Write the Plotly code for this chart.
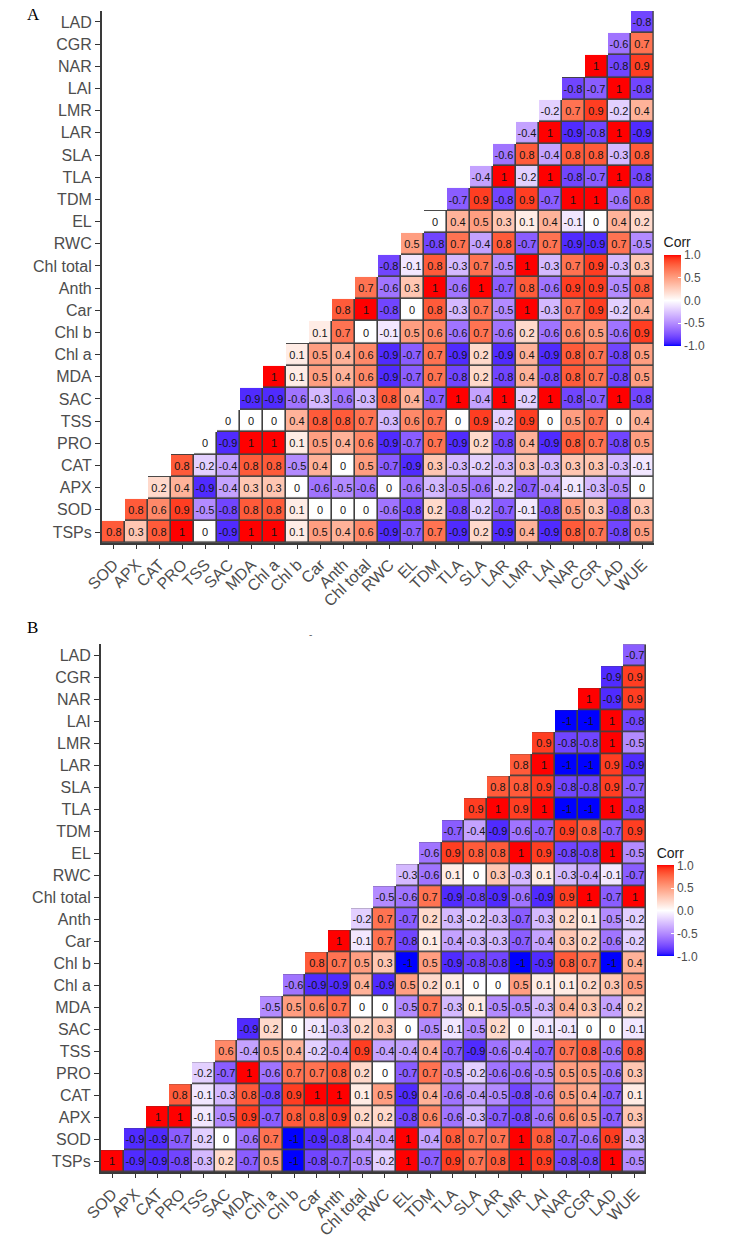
import plotly.graph_objects as go

# ---------------- data ----------------
cols = ["SOD", "APX", "CAT", "PRO", "TSS", "SAC", "MDA", "Chl a", "Chl b", "Car", "Anth",
        "Chl total", "RWC", "EL", "TDM", "TLA", "SLA", "LAR", "LMR", "LAI", "NAR", "CGR", "LAD", "WUE"]
rows = ["TSPs", "SOD", "APX", "CAT", "PRO", "TSS", "SAC", "MDA", "Chl a", "Chl b", "Car", "Anth",
        "Chl total", "RWC", "EL", "TDM", "TLA", "SLA", "LAR", "LMR", "LAI", "NAR", "CGR", "LAD"]
cbar_ticks = [-1.0, -0.5, 0.0, 0.5, 1.0]
cbar_text = ["-1.0", "-0.5", "0.0", "0.5", "1.0"]

# Panel A: each row lists values from the column equal to its own index up to WUE
a_TSPs = [0.8, 0.3, 0.8, 1, 0, -0.9, 1, 1, 0.1, 0.5, 0.4, 0.6, -0.9, -0.7, 0.7, -0.9, 0.2, -0.9, 0.4, -0.9, 0.8, 0.7, -0.8, 0.5]
a_SOD = [0.8, 0.6, 0.9, -0.5, -0.8, 0.8, 0.8, 0.1, 0, 0, 0, -0.6, -0.8, 0.2, -0.8, -0.2, -0.7, -0.1, -0.8, 0.5, 0.3, -0.8, 0.3]
a_APX = [0.2, 0.4, -0.9, -0.4, 0.3, 0.3, 0, -0.6, -0.5, -0.6, 0, -0.6, -0.3, -0.5, -0.6, -0.2, -0.7, -0.4, -0.1, -0.3, -0.5, 0]
a_CAT = [0.8, -0.2, -0.4, 0.8, 0.8, -0.5, 0.4, 0, 0.5, -0.7, -0.9, 0.3, -0.3, -0.2, -0.3, 0.3, -0.3, 0.3, 0.3, -0.3, -0.1]
a_PRO = [0, -0.9, 1, 1, 0.1, 0.5, 0.4, 0.6, -0.9, -0.7, 0.7, -0.9, 0.2, -0.8, 0.4, -0.9, 0.8, 0.7, -0.8, 0.5]
a_TSS = [0, 0, 0, 0.4, 0.8, 0.8, 0.7, -0.3, 0.6, 0.7, 0, 0.9, -0.2, 0.9, 0, 0.5, 0.7, 0, 0.4]
a_SAC = [-0.9, -0.9, -0.6, -0.3, -0.6, -0.3, 0.8, 0.4, -0.7, 1, -0.4, 1, -0.2, 1, -0.8, -0.7, 1, -0.8]
a_MDA = [1, 0.1, 0.5, 0.4, 0.6, -0.9, -0.7, 0.7, -0.8, 0.2, -0.8, 0.4, -0.8, 0.8, 0.7, -0.8, 0.5]
a_Chla = [0.1, 0.5, 0.4, 0.6, -0.9, -0.7, 0.7, -0.9, 0.2, -0.9, 0.4, -0.9, 0.8, 0.7, -0.8, 0.5]
a_Chlb = [0.1, 0.7, 0, -0.1, 0.5, 0.6, -0.6, 0.7, -0.6, 0.2, -0.6, 0.6, 0.5, -0.6, 0.9]
a_Car = [0.8, 1, -0.8, 0, 0.8, -0.3, 0.7, -0.5, 1, -0.3, 0.7, 0.9, -0.2, 0.4]
a_Anth = [0.7, -0.6, 0.3, 1, -0.6, 1, -0.7, 0.8, -0.6, 0.9, 0.9, -0.5, 0.8]
a_Chltotal = [-0.8, -0.1, 0.8, -0.3, 0.7, -0.5, 1, -0.3, 0.7, 0.9, -0.3, 0.3]
a_RWC = [0.5, -0.8, 0.7, -0.4, 0.8, -0.7, 0.7, -0.9, -0.9, 0.7, -0.5]
a_EL = [0, 0.4, 0.5, 0.3, 0.1, 0.4, -0.1, 0, 0.4, 0.2]
a_TDM = [-0.7, 0.9, -0.8, 0.9, -0.7, 1, 1, -0.6, 0.8]
a_TLA = [-0.4, 1, -0.2, 1, -0.8, -0.7, 1, -0.8]
a_SLA = [-0.6, 0.8, -0.4, 0.8, 0.8, -0.3, 0.8]
a_LAR = [-0.4, 1, -0.9, -0.8, 1, -0.9]
a_LMR = [-0.2, 0.7, 0.9, -0.2, 0.4]
a_LAI = [-0.8, -0.7, 1, -0.8]
a_NAR = [1, -0.8, 0.9]
a_CGR = [-0.6, 0.7]
a_LAD = [-0.8]

# Panel B
b_TSPs = [1, -0.9, -0.9, -0.8, -0.3, 0.2, -0.7, 0.5, -1, -0.8, -0.7, -0.5, -0.2, 1, -0.7, 0.9, 0.7, 0.8, 1, 0.9, -0.8, -0.8, 1, -0.5]
b_SOD = [-0.9, -0.9, -0.7, -0.2, 0, -0.6, 0.7, -1, -0.9, -0.8, -0.4, -0.4, 1, -0.4, 0.8, 0.7, 0.7, 1, 0.8, -0.7, -0.6, 0.9, -0.3]
b_APX = [1, 1, -0.1, -0.5, 0.9, -0.7, 0.8, 0.8, 0.9, 0.2, 0.2, -0.8, 0.6, -0.6, -0.3, -0.7, -0.8, -0.6, 0.6, 0.5, -0.7, 0.3]
b_CAT = [0.8, -0.1, -0.3, 0.8, -0.8, 0.9, 1, 1, 0.1, 0.5, -0.9, 0.4, -0.6, -0.4, -0.5, -0.8, -0.6, 0.5, 0.4, -0.7, 0.1]
b_PRO = [-0.2, -0.7, 1, -0.6, 0.7, 0.7, 0.8, 0.2, 0, -0.7, 0.7, -0.5, -0.2, -0.6, -0.6, -0.5, 0.5, 0.5, -0.6, 0.3]
b_TSS = [0.6, -0.4, 0.5, 0.4, -0.2, -0.4, 0.9, -0.4, -0.4, 0.4, -0.7, -0.9, -0.6, -0.4, -0.7, 0.7, 0.8, -0.6, 0.8]
b_SAC = [-0.9, 0.2, 0, -0.1, -0.3, 0.2, 0.3, 0, -0.5, -0.1, -0.5, 0.2, 0, -0.1, -0.1, 0, 0, -0.1]
b_MDA = [-0.5, 0.5, 0.6, 0.7, 0, 0, -0.5, 0.7, -0.3, 0.1, -0.5, -0.5, -0.3, 0.4, 0.3, -0.4, 0.2]
b_Chla = [-0.6, -0.9, -0.9, 0.4, -0.9, 0.5, 0.2, 0.1, 0, 0, 0.5, 0.1, 0.1, 0.2, 0.3, 0.5]
b_Chlb = [0.8, 0.7, 0.5, 0.3, -1, 0.5, -0.9, -0.8, -0.8, -1, -0.9, 0.8, 0.7, -1, 0.4]
b_Car = [1, -0.1, 0.7, -0.8, 0.1, -0.4, -0.3, -0.3, -0.7, -0.4, 0.3, 0.2, -0.6, -0.2]
b_Anth = [-0.2, 0.7, -0.7, 0.2, -0.3, -0.2, -0.3, -0.7, -0.3, 0.2, 0.1, -0.5, -0.2]
b_Chltotal = [-0.5, -0.6, 0.7, -0.9, -0.8, -0.9, -0.6, -0.9, 0.9, 1, -0.7, 1]
b_RWC = [-0.3, -0.6, 0.1, 0, 0.3, -0.3, 0.1, -0.3, -0.4, -0.1, -0.7]
b_EL = [-0.6, 0.9, 0.8, 0.8, 1, 0.9, -0.8, -0.8, 1, -0.5]
b_TDM = [-0.7, -0.4, -0.9, -0.6, -0.7, 0.9, 0.8, -0.7, 0.9]
b_TLA = [0.9, 1, 0.9, 1, -1, -1, 1, -0.8]
b_SLA = [0.8, 0.8, 0.9, -0.8, -0.8, 0.9, -0.7]
b_LAR = [0.8, 1, -1, -1, 0.9, -0.9]
b_LMR = [0.9, -0.8, -0.8, 1, -0.5]
b_LAI = [-1, -1, 1, -0.8]
b_NAR = [1, -0.9, 0.9]
b_CGR = [-0.9, 0.9]
b_LAD = [-0.7]

panel_a = [a_TSPs, a_SOD, a_APX, a_CAT, a_PRO, a_TSS, a_SAC, a_MDA, a_Chla, a_Chlb, a_Car, a_Anth,
           a_Chltotal, a_RWC, a_EL, a_TDM, a_TLA, a_SLA, a_LAR, a_LMR, a_LAI, a_NAR, a_CGR, a_LAD]
panel_b = [b_TSPs, b_SOD, b_APX, b_CAT, b_PRO, b_TSS, b_SAC, b_MDA, b_Chla, b_Chlb, b_Car, b_Anth,
           b_Chltotal, b_RWC, b_EL, b_TDM, b_TLA, b_SLA, b_LAR, b_LMR, b_LAI, b_NAR, b_CGR, b_LAD]


# ---------------- colour scale (Lab interpolation blue-white-red like ggplot) ----------------
def _lin(c):
    c = c / 255.0
    return c / 12.92 if c <= 0.04045 else ((c + 0.055) / 1.055) ** 2.4


def _gam(c):
    c = 12.92 * c if c <= 0.0031308 else 1.055 * c ** (1 / 2.4) - 0.055
    return max(0, min(255, round(c * 255)))


WP = (0.95047, 1.0, 1.08883)


def rgb2lab(rgb):
    r, g, b = [_lin(v) for v in rgb]
    X = 0.4124 * r + 0.3576 * g + 0.1805 * b
    Y = 0.2126 * r + 0.7152 * g + 0.0722 * b
    Z = 0.0193 * r + 0.1192 * g + 0.9505 * b

    def f(t):
        return t ** (1 / 3) if t > 0.008856 else 7.787 * t + 16 / 116
    fx, fy, fz = f(X / WP[0]), f(Y / WP[1]), f(Z / WP[2])
    return (116 * fy - 16, 500 * (fx - fy), 200 * (fy - fz))


def lab2rgb(lab):
    L, a, b = lab
    fy = (L + 16) / 116
    fx = fy + a / 500
    fz = fy - b / 200

    def finv(t):
        return t ** 3 if t ** 3 > 0.008856 else (t - 16 / 116) / 7.787
    X, Y, Z = finv(fx) * WP[0], finv(fy) * WP[1], finv(fz) * WP[2]
    r = 3.2406 * X - 1.5372 * Y - 0.4986 * Z
    g = -0.9689 * X + 1.8758 * Y + 0.0415 * Z
    bb = 0.0557 * X - 0.2040 * Y + 1.0570 * Z
    return tuple(_gam(max(0.0, v)) for v in (r, g, bb))


LOW, MID, HIGH = rgb2lab((0, 0, 255)), rgb2lab((255, 255, 255)), rgb2lab((255, 0, 0))
colorscale = []
N = 40
for k in range(N + 1):
    t = k / N
    v = -1 + 2 * t
    if v < 0:
        s = v + 1
        lab = tuple(LOW[i] + (MID[i] - LOW[i]) * s for i in range(3))
    else:
        s = v
        lab = tuple(MID[i] + (HIGH[i] - MID[i]) * s for i in range(3))
    r, g, b = lab2rgb(lab)
    colorscale.append([t, f"rgb({r},{g},{b})"])


def build(panel):
    z, txt, mask = [], [], []
    for i, vals in enumerate(panel):
        zr, tr, mr = [None] * len(cols), [""] * len(cols), [None] * len(cols)
        for k, v in enumerate(vals):
            j = i + k
            zr[j] = v
            tr[j] = f"{v:g}"
            mr[j] = 1
        z.append(zr)
        txt.append(tr)
        mask.append(mr)
    return z, txt, mask


W, H = 729, 1239
FONT = "Arial, Liberation Sans, sans-serif"

fig = go.Figure()

panels = [
    dict(data=panel_a, xa="x", ya="y", xdom=(87, 652), ydom=(11, 548), cb_x=662, cb_top=236),
    dict(data=panel_b, xa="x2", ya="y2", xdom=(86, 644), ydom=(650, 1183), cb_x=655, cb_top=852),
]

layout_axes = {}
for n, p in enumerate(panels):
    z, txt, mask = build(p["data"])
    fig.add_trace(go.Heatmap(
        z=mask, x=cols, y=rows, xaxis=p["xa"], yaxis=p["ya"],
        colorscale=[[0, "#404040"], [1, "#404040"]], showscale=False, hoverinfo="skip"))
    fig.add_trace(go.Heatmap(
        z=z, x=cols, y=rows, xaxis=p["xa"], yaxis=p["ya"], text=txt,
        texttemplate="%{text}", textfont=dict(size=11, color="#151515", family=FONT),
        colorscale=colorscale, zmin=-1, zmax=1, xgap=1.6, ygap=1.6, hoverinfo="skip",
        colorbar=dict(
            title=dict(text="Corr", side="top", font=dict(size=14, color="#1a1a1a", family=FONT)),
            tickvals=cbar_ticks, ticktext=cbar_text, ticks="inside", ticklen=3, tickcolor="white",
            tickfont=dict(size=12, color="#4d4d4d", family=FONT),
            thickness=17, thicknessmode="pixels", len=112, lenmode="pixels",
            x=p["cb_x"] / W, xanchor="left", y=1 - p["cb_top"] / H, yanchor="top",
            xpad=0, ypad=0, outlinewidth=0)))
    sfx = "" if n == 0 else "2"
    layout_axes["xaxis" + sfx] = dict(
        domain=[p["xdom"][0] / W, p["xdom"][1] / W], anchor="y" + sfx, type="category",
        categoryorder="array", categoryarray=cols, range=[-0.5, 23.5], tickangle=-45,
        tickfont=dict(size=16, color="#4d4d4d", family=FONT), ticks="outside", ticklen=4,
        tickcolor="#333", showline=True, linecolor="#3a3a3a", linewidth=2,
        showgrid=False, zeroline=False, fixedrange=True)
    layout_axes["yaxis" + sfx] = dict(
        domain=[1 - p["ydom"][1] / H, 1 - p["ydom"][0] / H], anchor="x" + sfx, type="category",
        categoryorder="array", categoryarray=rows, range=[-0.5, 23.5],
        tickfont=dict(size=16, color="#4d4d4d", family=FONT), ticks="outside", ticklen=5,
        tickcolor="#333", showline=True, linecolor="#3a3a3a", linewidth=2,
        showgrid=False, zeroline=False, fixedrange=True)

SERIF = "Liberation Serif, Times New Roman, serif"
fig.update_layout(
    width=W, height=H, margin=dict(l=0, r=0, t=0, b=0),
    paper_bgcolor="white", plot_bgcolor="white", showlegend=False,
    font=dict(family=FONT),
    annotations=[
        dict(text="A", x=8 / W, y=1 - 3 / H, xref="paper", yref="paper", xanchor="left", yanchor="top",
             showarrow=False, font=dict(size=17, color="black", family=SERIF)),
        dict(text="B", x=8 / W, y=1 - 622 / H, xref="paper", yref="paper", xanchor="left", yanchor="top",
             showarrow=False, font=dict(size=17, color="black", family=SERIF)),
        dict(text="-", x=300 / W, y=1 - 640 / H, xref="paper", yref="paper", xanchor="center", yanchor="middle",
             showarrow=False, font=dict(size=10, color="#666", family=FONT)),
    ],
    **layout_axes)

fig.write_html("out.html")
